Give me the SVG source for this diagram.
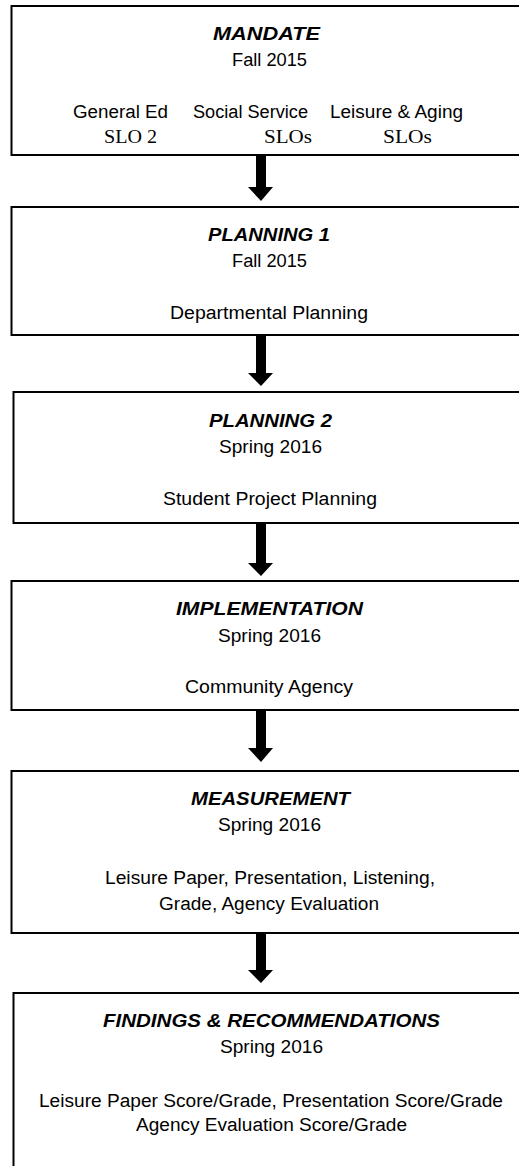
<svg xmlns="http://www.w3.org/2000/svg" width="519" height="1166" viewBox="0 0 519 1166">
<style>
.box{fill:#fff;stroke:#000;stroke-width:2}
.t{font-family:"Liberation Sans",Arial,sans-serif;font-size:18px;fill:#000}
.h{font-family:"Liberation Sans",Arial,sans-serif;font-size:18.5px;font-weight:bold;font-style:italic;fill:#000}
.s{font-family:"Liberation Serif","Times New Roman",serif;font-size:19.5px;fill:#000}
.arr{fill:#000}
</style>
<rect width="519" height="1166" fill="#fff"/>
<g id="mandate">
<rect class="box" x="11.5" y="6" width="520" height="149"/>
<text class="h" x="213" y="39.5" textLength="107" lengthAdjust="spacingAndGlyphs">MANDATE</text>
<text class="t" x="232" y="66" textLength="75" lengthAdjust="spacingAndGlyphs">Fall 2015</text>
<text class="t" x="73" y="118" textLength="95" lengthAdjust="spacingAndGlyphs">General Ed</text>
<text class="t" x="193" y="118" textLength="115" lengthAdjust="spacingAndGlyphs">Social Service</text>
<text class="t" x="330" y="118" textLength="133" lengthAdjust="spacingAndGlyphs">Leisure &amp; Aging</text>
<text class="s" x="104" y="143" textLength="53" lengthAdjust="spacingAndGlyphs">SLO 2</text>
<text class="s" x="264" y="143" textLength="48" lengthAdjust="spacingAndGlyphs">SLOs</text>
<text class="s" x="383" y="143" textLength="49" lengthAdjust="spacingAndGlyphs">SLOs</text>
</g>
<g id="planning1">
<rect class="box" x="11.5" y="207" width="520" height="128"/>
<text class="h" x="208" y="240.5" textLength="122" lengthAdjust="spacingAndGlyphs">PLANNING 1</text>
<text class="t" x="232" y="267" textLength="75" lengthAdjust="spacingAndGlyphs">Fall 2015</text>
<text class="t" x="170" y="319" textLength="198" lengthAdjust="spacingAndGlyphs">Departmental Planning</text>
</g>
<g id="planning2">
<rect class="box" x="13.5" y="392" width="520" height="131"/>
<text class="h" x="209" y="426.5" textLength="123" lengthAdjust="spacingAndGlyphs">PLANNING 2</text>
<text class="t" x="219" y="453" textLength="103" lengthAdjust="spacingAndGlyphs">Spring 2016</text>
<text class="t" x="163" y="505" textLength="214" lengthAdjust="spacingAndGlyphs">Student Project Planning</text>
</g>
<g id="implementation">
<rect class="box" x="11.5" y="581" width="520" height="129"/>
<text class="h" x="176" y="615" textLength="187" lengthAdjust="spacingAndGlyphs">IMPLEMENTATION</text>
<text class="t" x="218" y="641.5" textLength="103" lengthAdjust="spacingAndGlyphs">Spring 2016</text>
<text class="t" x="185" y="693" textLength="168" lengthAdjust="spacingAndGlyphs">Community Agency</text>
</g>
<g id="measurement">
<rect class="box" x="11.5" y="771" width="520" height="162"/>
<text class="h" x="191" y="805" textLength="159" lengthAdjust="spacingAndGlyphs">MEASUREMENT</text>
<text class="t" x="218" y="831" textLength="103" lengthAdjust="spacingAndGlyphs">Spring 2016</text>
<text class="t" x="105" y="884" textLength="330" lengthAdjust="spacingAndGlyphs">Leisure Paper, Presentation, Listening,</text>
<text class="t" x="159" y="910" textLength="220" lengthAdjust="spacingAndGlyphs">Grade, Agency Evaluation</text>
</g>
<g id="findings">
<rect class="box" x="13.5" y="993" width="520" height="190"/>
<text class="h" x="103" y="1026.5" textLength="337" lengthAdjust="spacingAndGlyphs">FINDINGS &amp; RECOMMENDATIONS</text>
<text class="t" x="220" y="1053" textLength="103" lengthAdjust="spacingAndGlyphs">Spring 2016</text>
<text class="t" x="39" y="1106.5" textLength="464" lengthAdjust="spacingAndGlyphs">Leisure Paper Score/Grade, Presentation Score/Grade</text>
<text class="t" x="136" y="1130.5" textLength="271" lengthAdjust="spacingAndGlyphs">Agency Evaluation Score/Grade</text>
</g>
<g id="connectors">
<polygon class="arr" points="256,155 266,155 266,187 273,187 261,201 248,187 256,187"/>
<polygon class="arr" points="256,335 266,335 266,373 273,373 261,386 248,373 256,373"/>
<polygon class="arr" points="256,523 266,523 266,563 273,563 261,576 248,563 256,563"/>
<polygon class="arr" points="256,710 266,710 266,748 273,748 261,762 248,748 256,748"/>
<polygon class="arr" points="256,933 266,933 266,970 273,970 261,983 248,970 256,970"/>
</g>
</svg>
